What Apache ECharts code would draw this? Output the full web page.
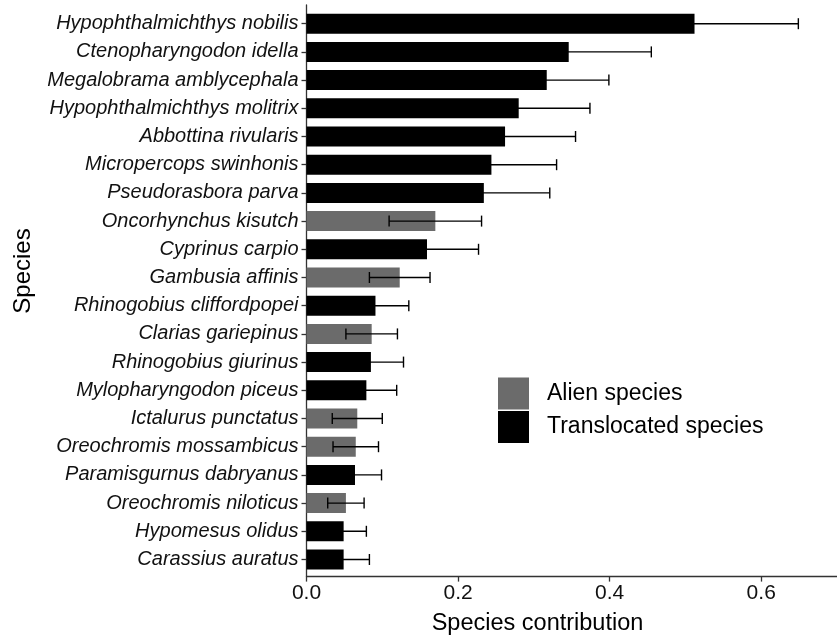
<!DOCTYPE html>
<html>
<head>
<meta charset="utf-8">
<script src="https://cdn.jsdelivr.net/npm/echarts@6/dist/echarts.min.js"></script>
<style>html,body{margin:0;padding:0;background:#fff;}#c{width:837px;height:637px;}</style>
</head>
<body>
<div id="c"></div>
<script>
var species = ['Hypophthalmichthys nobilis','Ctenopharyngodon idella','Megalobrama amblycephala','Hypophthalmichthys molitrix','Abbottina rivularis','Micropercops swinhonis','Pseudorasbora parva','Oncorhynchus kisutch','Cyprinus carpio','Gambusia affinis','Rhinogobius cliffordpopei','Clarias gariepinus','Rhinogobius giurinus','Mylopharyngodon piceus','Ictalurus punctatus','Oreochromis mossambicus','Paramisgurnus dabryanus','Oreochromis niloticus','Hypomesus olidus','Carassius auratus'];
var contribution = [0.512,0.346,0.317,0.280,0.262,0.244,0.234,0.170,0.159,0.123,0.091,0.086,0.085,0.079,0.067,0.065,0.064,0.052,0.049,0.049];
var stdError = [0.137,0.109,0.082,0.094,0.093,0.086,0.087,0.061,0.068,0.040,0.044,0.034,0.043,0.040,0.033,0.030,0.035,0.024,0.030,0.034];
var origin = ['T','T','T','T','T','T','T','A','T','A','T','A','T','T','A','A','T','A','T','T'];
var xTicks = [0, 0.2, 0.4, 0.6];

var FONT = "'Liberation Sans', Arial, sans-serif";
var alienData = contribution.map(function(v,i){ return origin[i]==='A' ? v : null; });
var transData = contribution.map(function(v,i){ return origin[i]==='T' ? v : null; });
var errData = contribution.map(function(v,i){ return [i, v - stdError[i], v + stdError[i]]; });

var chart = echarts.init(document.getElementById('c'), null, {renderer:'canvas'});
chart.setOption({
  animation: false,
  backgroundColor: '#ffffff',
  textStyle: {fontFamily: FONT},
  grid: [
    {left: 306.5, right: 0, top: 9.6, bottom: 63.4, outerBoundsMode: 'none', containLabel: false},
    {left: 306.5, right: 0, top: 5, bottom: 60.4, outerBoundsMode: 'none', containLabel: false}
  ],
  legend: {
    orient: 'vertical', left: 493, top: 372.5,
    icon: 'rect', itemWidth: 31, itemHeight: 32, itemGap: 1.5,
    data: ['Alien species','Translocated species'],
    textStyle: {fontSize: 23, color: '#000', fontFamily: FONT, padding: [0,0,0,13]}
  },
  graphic: [{
    type: 'text', x: 23, y: 271, rotation: Math.PI/2,
    style: {text: 'Species', fontSize: 24, fill: '#000', fontFamily: FONT, align: 'center', verticalAlign: 'middle'}
  },{
    type: 'text', x: 537.5, y: 623.5,
    style: {text: 'Species contribution', fontSize: 23.5, fill: '#000', fontFamily: FONT, align: 'center', verticalAlign: 'middle'}
  }],
  xAxis: [{
    type: 'value', min: 0, max: 0.7, interval: 0.2, gridIndex: 0, offset: 3,
    axisLine: {show: true, lineStyle: {color: '#333', width: 1.3}},
    axisTick: {show: true, length: 5, lineStyle: {color: '#333', width: 1.3}},
    axisLabel: {fontSize: 21, color: '#111', margin: 6, showMaxLabel: false,
      formatter: function(v){ return xTicks.indexOf(Math.round(v*10)/10) >= 0 ? v.toFixed(1) : ''; }},
    splitLine: {show: false}
  },{
    type: 'value', gridIndex: 1, show: false, min: 0, max: 1
  }],
  yAxis: [{
    type: 'category', data: species, inverse: true, gridIndex: 0,
    axisLine: {show: false},
    axisTick: {show: true, alignWithLabel: true, length: 5, lineStyle: {color: '#333', width: 1.3}},
    axisLabel: {fontSize: 20, color: '#111', fontStyle: 'italic', margin: 8, interval: 0}
  },{
    type: 'value', gridIndex: 1, min: 0, max: 1,
    axisLine: {show: true, lineStyle: {color: '#333', width: 1.3}},
    axisTick: {show: false}, axisLabel: {show: false}, splitLine: {show: false}
  }],
  series: [
    {name: 'Alien species', type: 'bar', data: alienData, barWidth: 20, barGap: '-100%',
      itemStyle: {color: '#6b6b6b'}, xAxisIndex: 0, yAxisIndex: 0},
    {name: 'Translocated species', type: 'bar', data: transData, barWidth: 20, barGap: '-100%',
      itemStyle: {color: '#000000'}, xAxisIndex: 0, yAxisIndex: 0},
    {name: 'err', type: 'custom', xAxisIndex: 0, yAxisIndex: 0, data: errData, z: 10,
      encode: {y: 0, x: [1,2]},
      renderItem: function(params, api){
        var idx = api.value(0);
        var lo = api.coord([api.value(1), idx]);
        var hi = api.coord([api.value(2), idx]);
        var h = 5.5;
        var st = {stroke: '#000', lineWidth: 1.4};
        return {type: 'group', children: [
          {type:'line', shape:{x1:lo[0], y1:lo[1], x2:hi[0], y2:hi[1]}, style: st},
          {type:'line', shape:{x1:lo[0], y1:lo[1]-h, x2:lo[0], y2:lo[1]+h}, style: st},
          {type:'line', shape:{x1:hi[0], y1:hi[1]-h, x2:hi[0], y2:hi[1]+h}, style: st}
        ]};
      }
    }
  ]
});
</script>
</body>
</html>
